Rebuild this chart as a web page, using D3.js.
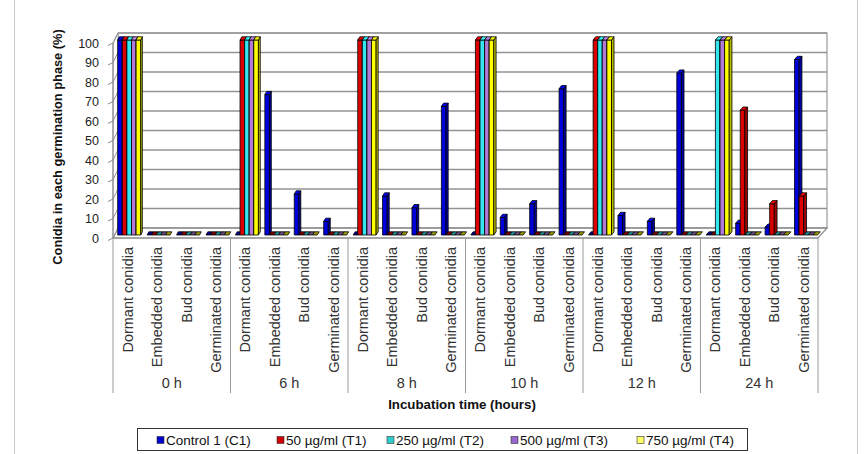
<!DOCTYPE html>
<html>
<head>
<meta charset="utf-8">
<script src="https://cdn.jsdelivr.net/npm/d3@7"></script>
<style>
  body { margin: 0; background: #fff; }
  text { font-family: Arial, "Liberation Sans", sans-serif; }
</style>
</head>
<body>
<div id="chart"></div>
<script>
// Daten
const groups = ["0 h", "6 h", "8 h", "10 h", "12 h", "24 h"];
const phases = ["Dormant conidia", "Embedded conidia", "Bud conidia", "Germinated conidia"];
const series = ["Control 1 (C1)", "50 µg/ml (T1)", "250 µg/ml (T2)", "500 µg/ml (T3)", "750 µg/ml (T4)"];
const colors = ["#0000dd", "#dd0000", "#33e6f0", "#b07ad6", "#ffff00"];
const legendColors = ["#0000cc", "#cc0000", "#33cccc", "#9966cc", "#ffff66"];
const yTicks = [0, 10, 20, 30, 40, 50, 60, 70, 80, 90, 100];

// Werte je Serie: Gruppe für Gruppe, je 4 Phasen
const valuesC1 = [100, 0, 0, 0,   0, 72, 21, 7,   0, 20, 14, 66,   0, 9, 16, 75,   0, 10, 7, 83,   0, 6, 4, 90];
const valuesT1 = [100, 0, 0, 0,   100, 0, 0, 0,   100, 0, 0, 0,    100, 0, 0, 0,   100, 0, 0, 0,   0, 64, 16, 20];
const valuesT2 = [100, 0, 0, 0,   100, 0, 0, 0,   100, 0, 0, 0,    100, 0, 0, 0,   100, 0, 0, 0,   100, 0, 0, 0];
const valuesT3 = [100, 0, 0, 0,   100, 0, 0, 0,   100, 0, 0, 0,    100, 0, 0, 0,   100, 0, 0, 0,   100, 0, 0, 0];
const valuesT4 = [100, 0, 0, 0,   100, 0, 0, 0,   100, 0, 0, 0,    100, 0, 0, 0,   100, 0, 0, 0,   100, 0, 0, 0];
const allValues = [valuesC1, valuesT1, valuesT2, valuesT3, valuesT4];

const width = 864, height = 454;

const svg = d3.select("#chart").append("svg")
    .attr("width", width)
    .attr("height", height);

// Rahmen des Diagramms
svg.append("rect")
    .attr("x", 14.5).attr("y", -2)
    .attr("width", 843).attr("height", 460)
    .attr("fill", "none").attr("stroke", "#c8c8c8");

// Pseudo-3D: vordere und hintere Ebene
const front = [113, 818], back = [118, 827];
const yF = d3.scaleLinear().domain([0, 100]).range([238, 43]);
const yB = d3.scaleLinear().domain([0, 100]).range([228, 33]);

const cats = d3.range(groups.length * phases.length);
const xCat = d3.scaleBand().domain(cats).range([0, 1]);
const xSer = d3.scaleBand().domain(d3.range(series.length))
    .range([0, xCat.bandwidth()]).paddingOuter(0.7);

function proj(u, v, d) {
    const xf = front[0] + u * (front[1] - front[0]);
    const xb = back[0] + u * (back[1] - back[0]);
    return [xf * (1 - d) + xb * d, yF(v) * (1 - d) + yB(v) * d];
}
const poly = pts => "M" + pts.map(p => p.join(",")).join("L") + "Z";

// Wände und Boden
svg.append("path")
    .attr("d", poly([proj(0, 0, 1), proj(1, 0, 1), proj(1, 100, 1), proj(0, 100, 1)]))
    .attr("fill", "#fff").attr("stroke", "#9a9a9a").attr("stroke-width", 1.2);
svg.append("path")
    .attr("d", poly([proj(0, 0, 0), proj(1, 0, 0), proj(1, 0, 1), proj(0, 0, 1)]))
    .attr("fill", "#fff").attr("stroke", "#8a8a8a").attr("stroke-width", 1.2);
svg.append("path")
    .attr("d", poly([proj(0, 0, 0), proj(0, 0, 1), proj(0, 100, 1), proj(0, 100, 0)]))
    .attr("fill", "#fff").attr("stroke", "#9a9a9a").attr("stroke-width", 1);

// Gitterlinien
const grid = svg.append("g").attr("stroke", "#939393").attr("stroke-width", 1.7).attr("fill", "none");
yTicks.forEach(v => {
    const a = proj(0, v, 1), b = proj(1, v, 1), c = proj(0, v, 0);
    grid.append("line").attr("x1", a[0]).attr("y1", a[1]).attr("x2", b[0]).attr("y2", b[1]);
    grid.append("line").attr("x1", c[0]).attr("y1", c[1]).attr("x2", a[0]).attr("y2", a[1])
        .attr("stroke-width", 1);
    // Tick
    grid.append("line").attr("x1", 108).attr("y1", yF(v) + 2.5).attr("x2", c[0]).attr("y2", c[1])
        .attr("stroke", "#888").attr("stroke-width", 1);
});

// Y-Achse
svg.append("line")
    .attr("x1", front[0]).attr("y1", yF(0)).attr("x2", front[0]).attr("y2", yF(100))
    .attr("stroke", "#888");

svg.append("g").selectAll("text")
    .data(yTicks)
    .join("text")
    .attr("x", 99)
    .attr("y", d => yF(d))
    .attr("dy", "0.36em")
    .attr("text-anchor", "end")
    .style("font-size", "12.5px")
    .style("fill", "#222")
    .text(d => d);

svg.append("text")
    .attr("transform", "translate(62,147) rotate(-90)")
    .attr("text-anchor", "middle")
    .style("font-size", "12.8px")
    .style("font-weight", "bold")
    .style("fill", "#111")
    .text("Conidia in each germination phase (%)");

// Säulen
const D0 = 0.3, D1 = 0.62;
const bars = svg.append("g");
cats.forEach(ci => {
    series.forEach((s, si) => {
        const v = allValues[si][ci];
        const u0 = xCat(ci) + xSer(si);
        const u1 = u0 + xSer.bandwidth();
        const col = d3.color(colors[si]);
        const g = bars.append("g")
            .attr("stroke", "#000").attr("stroke-width", 0.8).attr("stroke-linejoin", "round");
        if (v > 0) {
            g.append("path")
                .attr("d", poly([proj(u0, 0, D0), proj(u1, 0, D0), proj(u1, v, D0), proj(u0, v, D0)]))
                .attr("fill", col.formatHex());
            g.append("path")
                .attr("d", poly([proj(u1, 0, D0), proj(u1, 0, D1), proj(u1, v, D1), proj(u1, v, D0)]))
                .attr("fill", col.darker(0.9).formatHex());
        }
        g.append("path")
            .attr("d", poly([proj(u0, v, D0), proj(u1, v, D0), proj(u1, v, D1), proj(u0, v, D1)]))
            .attr("fill", v > 0 ? col.brighter(0.3).formatHex() : col.darker(1.4).formatHex());
        g.append("title").text(`${groups[Math.floor(ci / 4)]} – ${phases[ci % 4]} – ${s}: ${v}`);
    });
});

// Kategorie-Achse
const groupW = (front[1] - front[0]) / groups.length;
const axis = svg.append("g");
axis.append("line")
    .attr("x1", front[0]).attr("y1", yF(0)).attr("x2", front[1]).attr("y2", yF(0))
    .attr("stroke", "#888");
d3.range(groups.length + 1).forEach(k => {
    axis.append("line")
        .attr("x1", front[0] + k * groupW).attr("x2", front[0] + k * groupW)
        .attr("y1", yF(0)).attr("y2", 393)
        .attr("stroke", "#999");
});

axis.selectAll("text.cat")
    .data(cats)
    .join("text")
    .attr("class", "cat")
    .attr("transform", d => `translate(${proj(xCat(d) + xCat.bandwidth() / 2, 0, 0)[0]},247) rotate(-90)`)
    .attr("dy", "0.36em")
    .attr("text-anchor", "end")
    .style("font-size", "14.5px")
    .style("fill", "#333")
    .text(d => phases[d % 4]);

axis.selectAll("text.grp")
    .data(groups)
    .join("text")
    .attr("class", "grp")
    .attr("x", (d, i) => front[0] + (i + 0.5) * groupW)
    .attr("y", 383)
    .attr("dy", "0.36em")
    .attr("text-anchor", "middle")
    .style("font-size", "14.5px")
    .style("fill", "#333")
    .text(d => d);

svg.append("text")
    .attr("x", 462)
    .attr("y", 404)
    .attr("dy", "0.36em")
    .attr("text-anchor", "middle")
    .style("font-size", "13.3px")
    .style("font-weight", "bold")
    .style("fill", "#111")
    .text("Incubation time (hours)");

// Legende
const legendX = [157, 277, 387, 511, 637];
svg.append("rect")
    .attr("x", 137.5).attr("y", 428.5)
    .attr("width", 610).attr("height", 22)
    .attr("fill", "#fff").attr("stroke", "#333");

series.forEach((s, i) => {
    const item = svg.append("g").attr("transform", `translate(${legendX[i]},440)`);
    item.append("rect")
        .attr("x", 0).attr("y", -3.5)
        .attr("width", 7).attr("height", 7)
        .attr("fill", legendColors[i])
        .attr("stroke", "#333").attr("stroke-width", 0.6);
    item.append("text")
        .attr("x", 9)
        .attr("dy", "0.36em")
        .style("font-size", "13.5px")
        .style("fill", "#111")
        .text(s);
});
</script>
</body>
</html>
